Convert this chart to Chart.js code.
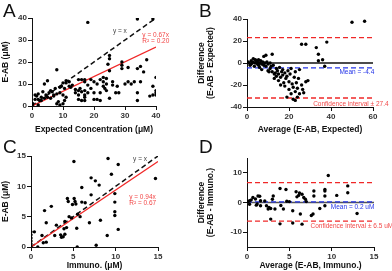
<!DOCTYPE html>
<html>
<head>
<meta charset="utf-8">
<script src="https://cdn.jsdelivr.net/npm/chart.js@4.4.1/dist/chart.umd.min.js"></script>
<style>
  html, body { margin: 0; padding: 0; background: #fff; }
  body { width: 392px; height: 271px; position: relative; overflow: hidden; font-family: "Liberation Sans", Arial, sans-serif; }
  .panel { position: absolute; }
  .letter { position: absolute; font-size: 19px; color: #111; line-height: 1; }
</style>
</head>
<body>
<div class="panel" style="left:0;top:0;width:196px;height:135px"><canvas id="chart-a"></canvas></div>
<div class="panel" style="left:196px;top:0;width:196px;height:135px"><canvas id="chart-b"></canvas></div>
<div class="panel" style="left:0;top:135px;width:196px;height:136px"><canvas id="chart-c"></canvas></div>
<div class="panel" style="left:196px;top:135px;width:196px;height:136px"><canvas id="chart-d"></canvas></div>
<div class="letter" style="left:3px;top:1px">A</div>
<div class="letter" style="left:199px;top:1px">B</div>
<div class="letter" style="left:3px;top:137px">C</div>
<div class="letter" style="left:199px;top:137px">D</div>

<script>
// ---------- A: E-AB vs expected concentration ----------
const aExpected = [0,0,0.3,1,1,1.5,2,2,2,2.5,3,3,3.5,4,4,4.5,5,5,5.5,6,6,6.5,7,7,7.5,8,8,8,8.5,9,9,9,9.5,10,10,10,10.5,10.5,11,11,11,12,12,12.5,13,14,14,15,15,15,15,15.5,16,16,16,17,17,17,17,17,17,18,18,18,19,19,20,20,20,21,21,22,22,22,23,23,23,23.5,24,24,24,24.5,25,25,25,25,26,26,27,27.5,28,29,29,29,30,31,31,32,33,34,34,34,34,35,35,36,37,38,39,39,39,40,40,40,40];
const aEAB = [0,0.5,1,3,5,4.5,0.5,3,5.5,2.5,4,2.5,6.5,10,3.5,5,11.5,4,6,3.5,7,6.5,5,4.5,8,16.5,5.5,1,2,8.5,6,0.5,9,10.5,5,1,8,2.5,11.5,10.5,4,11,9,8.5,9.5,6,7.5,7,5,3,12,8,12,6.5,2.5,12,11,7,5,4,2.5,38,9.5,6,12,8,3,6,11,3,10,2.5,12,6,13,11,9,8,12.5,10,7,19,23,21.5,16,3.5,11,9.5,6,9,6,20,18.5,17,10,17.5,11,10,11,39.5,17,6,2.5,18,11,15.5,21,4.5,39.5,9,5,13,7,6,5];
const aIdentity = [[0, 0], [40, 40]];
const aFit = [[0, 0], [40, 26.8]];
const aTicks = [0, 10, 20, 30, 40];

// ---------- B: Bland-Altman E-AB vs expected ----------
const bAverage = [0.5,1,1.5,2,2,2.5,3,3,3.5,4,4,4.5,5,5,5.5,5.5,6,6,6.5,7,7,7.5,8,8,8.5,9,9,9.5,10,10,10.5,11,11,11.5,12,12,12.5,13,13,13.5,14,14,14.5,15,15,15.5,16,16,16.5,17,17,17.5,18,18,18.5,19,19,19.5,20,20,20.5,21,21,21.5,22,22,22.5,23,23,23,23.5,24,24,24.5,25,25,26,26,26.5,27,28,28,29,33,34,34,36,37,38,50,56];
const bDiff = [1,0,-2,2,-1,0,4,1,-3,3,0,2,-1,1,3,-2,-4,0,2,-6,-1,1,6,-2,0,7,-3,1,-1,-7,-8,-5,0,-3,8,-8,-2,-10,-14,-9,-5,-12,-7,-16,-10,-4,-20,-13,-8,-11,-6,-18,-21,-9,-14,-31,-12,-7,-17,-24,-10,-28,-5,-19,-33,-22,-13,-34,-26,-8,-18,-31,-23,-14,-28,-6,-20,17,-24,-27,-17,17,-16,14,8,2,3,-3,19,37,38];
const bZero = [[0, 0], [60, 0]];
const bMean = [[0, -4.4], [61, -4.4]];
const bUpper = [[0, 23.0], [61, 23.0]];
const bLower = [[0, -31.8], [61, -31.8]];
const bXTicks = [0, 20, 40, 60];
const bYTicks = [-40, -20, 0, 20, 40];

// ---------- C: E-AB vs immuno ----------
const cImmuno = [0,0,0,0,0,0,0.4,0.8,1.3,1.45,1.8,1.6,1.8,2.4,2.8,3,3.5,3.6,3.8,3.9,4,4,4.2,4.3,4.4,4.5,4.8,4.9,5.07,5.1,5.2,5.3,5.4,5.46,5.5,5.8,6,6,6.4,6.9,7.1,7.1,7.6,7.7,8.05,8.2,9,9.1,9.5,9.9,9.9,9.9,9.9,10.3,10.3,14.7];
const cEAB = [0,0.5,1,1.5,2,2.5,2.5,0,1.9,0.7,0.8,6,4,6.7,1.9,3.6,2,1.6,1.7,3,2.1,4.2,3.2,8,7.5,5,4.8,7,14.1,8,7.5,7.1,3.1,0,5.4,5,9.8,7.4,7.3,4,11.4,8.6,10.9,0.3,10.2,4.4,1.9,14.6,12,8.8,7.4,5.8,5.2,13.6,2.9,11.3];
const cIdentity = [[0, 0], [15, 15]];
const cFit = [[0, 0], [15, 14.1]];
const cTicks = [0, 5, 10, 15];

// ---------- D: Bland-Altman E-AB vs immuno ----------
const dAverage = [0.1,0.3,0.5,0.3,0.7,1,1.2,1.3,1.5,1.6,1.1,1.6,2.3,2.5,2.6,2.8,2.8,3,3.1,3.3,3.9,3.9,4,4.3,4.6,4.7,5.4,5.4,5.8,5.9,6.1,6.2,6.3,6.5,6.5,6.7,6.9,7,7.6,7.8,7.9,7.9,8.6,9.2,9.2,9.2,9.2,9.6,10.6,11.9,11.9,13,5,2.1];
const dDiff = [0.3,0.6,0.9,-0.6,1.7,1.2,-0.5,2.2,2.1,0.6,-0.9,-1.1,-1.1,-2.2,-1.7,-2,-5.6,1.1,2.2,-2.2,4.7,-7.2,-1,-2.2,4.4,0.4,-2.8,-6.9,3.6,1.9,2.4,3.2,-3.9,-7.3,2.8,1.7,1.1,0.3,-4.4,-3.9,3.9,2.2,-2,4.4,3.9,2.2,-1.1,9.1,2.4,5.6,3.3,-3.7,0.3,0.5];
const dZero = [[0, 0], [15, 0]];
const dMean = [[0, 0.2], [15.5, 0.2]];
const dUpper = [[0, 6.7], [15.5, 6.7]];
const dLower = [[0, -6.3], [15.5, -6.3]];
const dXTicks = [0, 5, 10, 15];
const dYTicks = [-10, 0, 10];

const FONT = '"Liberation Sans", Arial, sans-serif';
const RED = '#f02828';
const TEXT_RED = '#f24848';
const BLUE = '#2434e8';

const toPoints = (xs, ys) => xs.map((x, i) => ({ x: x, y: ys[i] }));
const toLine = (pairs) => pairs.map(p => ({ x: p[0], y: p[1] }));

const Panels = {
  // scatter points first so they are drawn on top
  scatter(xs, ys) {
    return {
      type: 'scatter',
      data: toPoints(xs, ys),
      pointRadius: 1.7,
      pointBackgroundColor: '#000',
      pointBorderWidth: 0
    };
  },

  line(pairs, color, dash, width) {
    return {
      type: 'line',
      data: toLine(pairs),
      borderColor: color,
      borderWidth: width || 1.3,
      borderDash: dash || [],
      pointRadius: 0,
      fill: false
    };
  },

  axis(min, max, ticks, title, size) {
    return {
      type: 'linear',
      min: min,
      max: max,
      afterBuildTicks: (s) => { s.ticks = ticks.map(v => ({ value: v })); },
      afterFit: (s) => {
        if (s.isHorizontal()) s.height = size; else s.width = size;
      },
      grid: { drawOnChartArea: false, color: '#111', tickLength: 4, lineWidth: 1 },
      border: { color: '#111', width: 1 },
      ticks: {
        color: '#333',
        padding: 1,
        maxRotation: 0,
        font: { family: FONT, size: 8, weight: 'bold' }
      },
      title: {
        display: true,
        text: title,
        color: '#111',
        padding: { top: 1, bottom: 1 },
        font: { family: FONT, size: 8.5, weight: 'bold', lineHeight: 1.05 }
      }
    };
  },

  // small text labels anchored in data units
  labels(list) {
    return {
      id: 'notes',
      afterDatasetsDraw(chart) {
        const c = chart.ctx;
        const sx = chart.scales.x, sy = chart.scales.y;
        c.save();
        c.font = '6.5px ' + FONT;
        c.textBaseline = 'middle';
        list.forEach(l => {
          c.fillStyle = l.color;
          c.textAlign = l.align || 'left';
          c.fillText(l.text, sx.getPixelForValue(l.x), sy.getPixelForValue(l.y));
        });
        c.restore();
      }
    };
  },

  make(id, datasets, scales, padding, notes) {
    return new Chart(document.getElementById(id), {
      data: { datasets: datasets },
      options: {
        responsive: true,
        maintainAspectRatio: false,
        animation: false,
        layout: { padding: padding },
        plugins: { legend: { display: false }, tooltip: { enabled: false } },
        scales: scales
      },
      plugins: [this.labels(notes)]
    });
  }
};

Panels.make('chart-a', [
  Panels.scatter(aExpected, aEAB),
  Panels.line(aFit, RED, [], 1.3),
  Panels.line(aIdentity, '#111', [5, 3], 1.5)
], {
  x: Panels.axis(0, 40, aTicks, 'Expected Concentration (\u03bcM)', 29),
  y: Panels.axis(0, 40, aTicks, 'E-AB (\u03bcM)', 32)
}, { top: 18, right: 40, left: 0, bottom: 0 }, [
  { text: 'y = x', x: 30.6, y: 34, color: '#444', align: 'right' },
  { text: 'y = 0.67x', x: 35.6, y: 32.3, color: TEXT_RED },
  { text: 'R\u00b2 = 0.20', x: 35.6, y: 29.4, color: TEXT_RED }
]);

Panels.make('chart-b', [
  Panels.scatter(bAverage, bDiff),
  Panels.line(bZero, '#111', [], 1.3),
  Panels.line(bMean, BLUE, [5, 3], 1.3),
  Panels.line(bUpper, RED, [5, 3], 1.3),
  Panels.line(bLower, RED, [5, 3], 1.3)
], {
  x: Panels.axis(0, 60, bXTicks, 'Average (E-AB, Expected)', 28),
  y: Panels.axis(-40, 40, bYTicks, ['Difference', '(E-AB - Expected)'], 51)
}, { top: 19, right: 19, left: 0, bottom: 0 }, [
  { text: 'Mean = -4.4', x: 44, y: -8.6, color: BLUE },
  { text: 'Confidence interval \u00b1 27.4', x: 31.5, y: -37.3, color: TEXT_RED }
]);

Panels.make('chart-c', [
  Panels.scatter(cImmuno, cEAB),
  Panels.line(cFit, RED, [], 1.3),
  Panels.line(cIdentity, '#111', [5, 3], 1.5)
], {
  x: Panels.axis(0, 15, cTicks, 'Immuno. (\u03bcM)', 24),
  y: Panels.axis(0, 15, cTicks, 'E-AB (\u03bcM)', 31)
}, { top: 21, right: 38, left: 0, bottom: 0 }, [
  { text: 'y = x', x: 13.7, y: 14.45, color: '#444', align: 'right' },
  { text: 'y = 0.94x', x: 11.6, y: 8.2, color: TEXT_RED },
  { text: 'R\u00b2 = 0.67', x: 11.6, y: 7.2, color: TEXT_RED }
]);

Panels.make('chart-d', [
  Panels.scatter(dAverage, dDiff),
  Panels.line(dMean, BLUE, [5, 3], 1.3),
  Panels.line(dZero, '#555', [], 1.5),
  Panels.line(dUpper, RED, [5, 3], 1.3),
  Panels.line(dLower, RED, [5, 3], 1.3)
], {
  x: Panels.axis(0, 15, dXTicks, 'Average (E-AB, Immuno.)', 24),
  y: Panels.axis(-15, 15, dYTicks, ['Difference', '(E-AB - Immuno.)'], 51)
}, { top: 23, right: 18, left: 0, bottom: 0 }, [
  { text: 'Mean = 0.2 uM', x: 9.9, y: -1.43, color: BLUE },
  { text: 'Confidence interval \u00b1 6.5 uM', x: 7.5, y: -7.9, color: TEXT_RED }
]);
</script>
</body>
</html>
